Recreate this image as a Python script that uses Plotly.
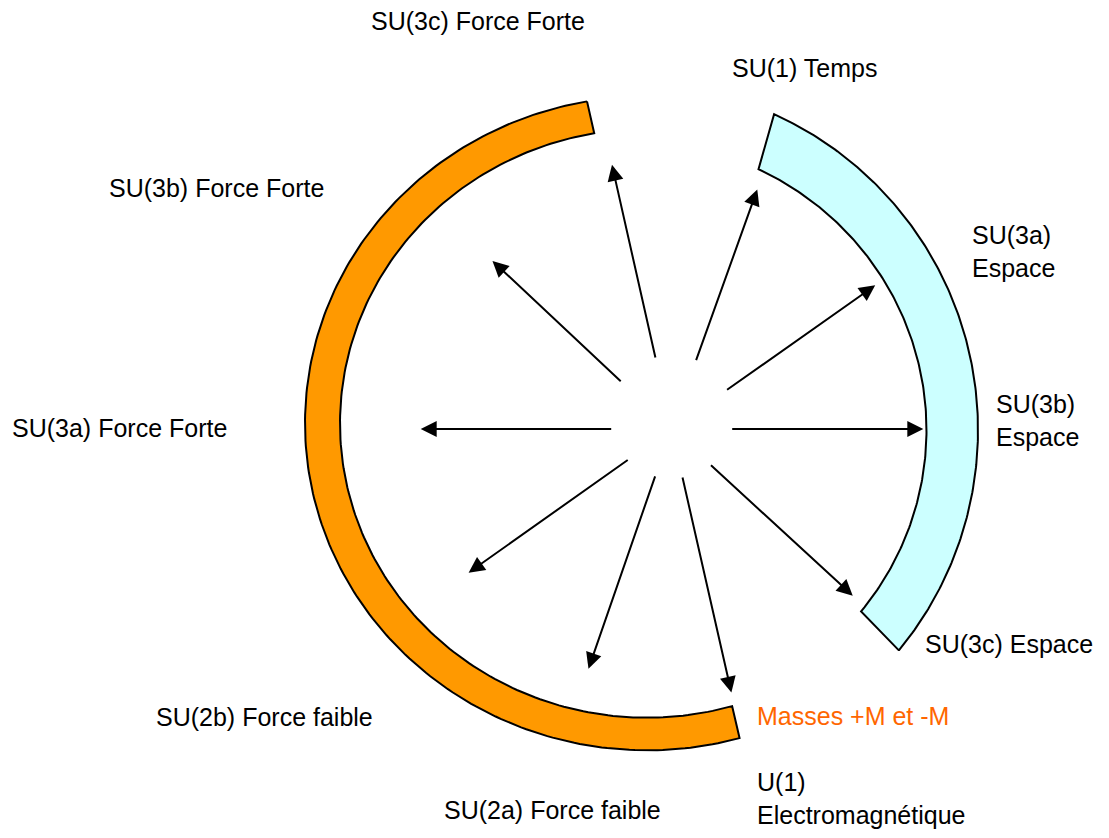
import numpy as np
import plotly.graph_objects as go

# ---------------- data ----------------
# arcs (parametric angle ranges, degrees, counter-clockwise from +x)
ARC_NAMES = ["Force (orange)", "Espace (cyan)"]
ARC_OUTER_START = [100.1, -39.5]
ARC_OUTER_END = [285.7, 65.7]
ARC_INNER_START = [99.9, -38.9]
ARC_INNER_END = [286.1, 64.5]

# arrows: direction (degrees), start radius, end radius
ARROW_ANGLE = [0, 35.2, 70.3, 102.7, 136.8, 180, 215.3, 250.9, 282.8, 317.4]
ARROW_R0 = [59.2, 66.2, 71.5, 71.7, 67.6, 58.8, 51.8, 48.5, 48.2, 51.6]
ARROW_R1 = [251.8, 249.3, 254.4, 270.8, 245.6, 250.8, 248.6, 253.7, 270.3, 246.2]

# labels
LABELS = [
    "SU(3c) Force Forte",
    "SU(1) Temps",
    "SU(3b) Force Forte",
    "SU(3a)<br>Espace",
    "SU(3a) Force Forte",
    "SU(3b)<br>Espace",
    "SU(3c) Espace",
    "SU(2b) Force faible",
    "Masses +M et -M",
    "U(1)<br>Electromagnétique",
    "SU(2a) Force faible",
]

# ---------------- layout / style ----------------
W, H = 1109, 838
OFF = 8  # browser body margin
ARC_GEOM = [  # center x, center y, outer a, outer b, inner a, inner b
    (647.0, 423.3, 342.0, 327.0, 307.0, 294.4),
    (631.5, 430.0, 346.5, 346.5, 295.0, 289.0),
]
ARC_FILL = ["#FF9900", "#CCFFFF"]
ARROW_CENTER = (671.5, 429.0)
LABEL_POS = [
    (369, 21), (730, 68), (107, 188), (970, 251), (10, 428), (994, 420),
    (923, 644), (154, 717), (755, 716), (755, 798), (442, 810),
]
LABEL_COLOR = ["#000000"] * 8 + ["#FF6600"] + ["#000000"] * 2
FONT = "Liberation Sans, Arial, sans-serif"
FS = 25

fig = go.Figure()

for i in range(len(ARC_NAMES)):
    cx, cy, ao, bo, ai, bi = ARC_GEOM[i]
    to = np.radians(np.linspace(ARC_OUTER_START[i], ARC_OUTER_END[i], 200))
    ti = np.radians(np.linspace(ARC_INNER_END[i], ARC_INNER_START[i], 200))
    xs = np.concatenate([cx + ao * np.cos(to), cx + ai * np.cos(ti)])
    ys = np.concatenate([cy - bo * np.sin(to), cy - bi * np.sin(ti)])
    xs = np.append(xs, xs[0])
    ys = np.append(ys, ys[0])
    fig.add_trace(go.Scatter(
        x=xs, y=ys, mode="lines", fill="toself", fillcolor=ARC_FILL[i],
        line=dict(color="black", width=2), name=ARC_NAMES[i],
        hoverinfo="skip", showlegend=False,
    ))

acx, acy = ARROW_CENTER
for ang, r0, r1 in zip(ARROW_ANGLE, ARROW_R0, ARROW_R1):
    t = np.radians(ang)
    fig.add_annotation(
        x=acx + r1 * np.cos(t), y=acy - r1 * np.sin(t),
        ax=acx + r0 * np.cos(t), ay=acy - r0 * np.sin(t),
        xref="x", yref="y", axref="x", ayref="y",
        text="", showarrow=True, arrowhead=2, arrowsize=1.6,
        arrowwidth=2, arrowcolor="black", standoff=0,
    )

for txt, (x, y), col in zip(LABELS, LABEL_POS, LABEL_COLOR):
    fig.add_annotation(
        x=x, y=y, xref="x", yref="y", text=txt, showarrow=False,
        xanchor="left", yanchor="middle", align="left",
        font=dict(family=FONT, size=FS, color=col),
    )

fig.update_layout(
    width=W - 2 * OFF, height=H - 2 * OFF,
    margin=dict(l=0, r=0, t=0, b=0),
    paper_bgcolor="white", plot_bgcolor="white",
    xaxis=dict(range=[OFF, W - OFF], visible=False, fixedrange=True),
    yaxis=dict(range=[H - OFF, OFF], visible=False, fixedrange=True),
    showlegend=False,
)

fig.write_html("out.html")
